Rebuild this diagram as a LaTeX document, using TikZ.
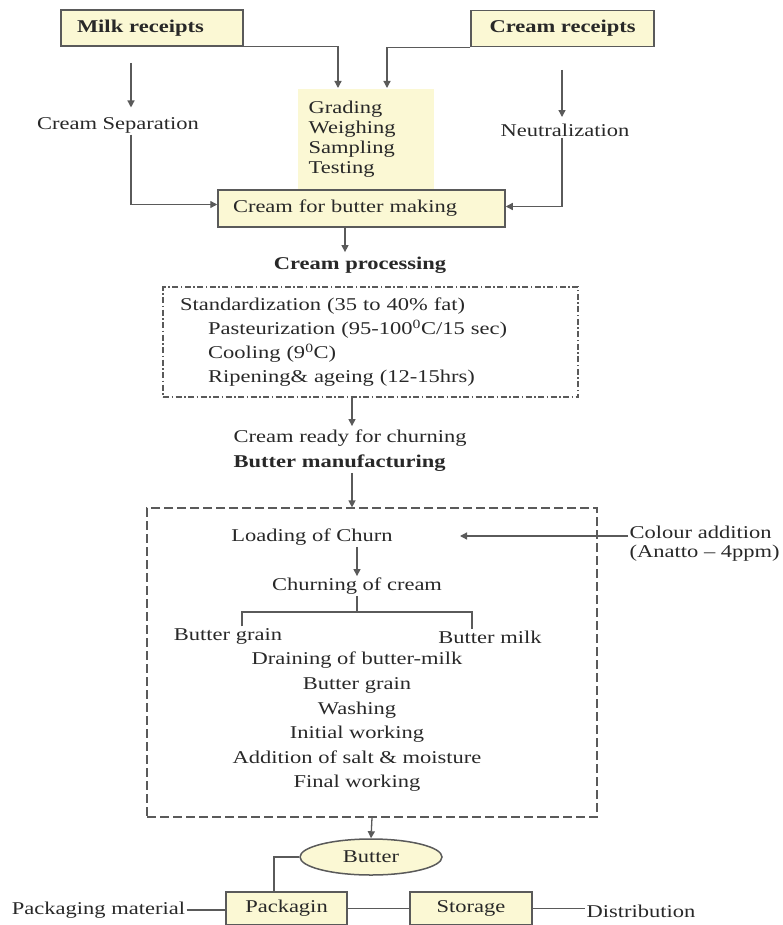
\documentclass[tikz,border=0pt]{standalone}
\usepackage{fontspec}
\setmainfont{Liberation Serif}[FakeStretch=1.25]
\usepackage{tikz}
\usetikzlibrary{arrows.meta, positioning, shapes.geometric}
\definecolor{boxfill}{RGB}{251,248,212}
\definecolor{linegray}{RGB}{90,90,90}
\definecolor{ink}{RGB}{40,40,40}
\newcommand{\flowfont}{\fontsize{18}{20}\selectfont}

\begin{document}
\begin{tikzpicture}[x=1pt, y=-1pt, line width=1.3pt, color=ink,
    every node/.style={font=\flowfont},
    box/.style={draw=linegray, fill=boxfill, line width=1.5pt, minimum height=36pt, inner sep=0pt},
    txt/.style={inner sep=1pt},
    procbox/.style={draw=linegray, line width=1.2pt, dash pattern=on 6pt off 2.5pt on 1.5pt off 2.5pt},
    churnbox/.style={draw=linegray, line width=1.2pt, dash pattern=on 9pt off 4pt},
    arr/.style={draw=linegray, -{Triangle[length=7pt, width=7pt]}},
    link/.style={draw=linegray}]
    \useasboundingbox (0,0) rectangle (783,925);

    \node[box, text width=150pt, inner xsep=16pt, align=left, font=\flowfont\bfseries] (milk) at (152,28) {Milk receipts};
    \node[box, minimum width=183pt, font=\flowfont\bfseries] (cream) at (562.5,28.5) {Cream receipts};
    \node[fill=boxfill, anchor=north west, text width=114pt, inner xsep=11pt, inner ysep=0pt, minimum height=102pt, align=left] (grade) at (297,88) {Grading\\Weighing\\Sampling\\Testing};
    \node[txt] (sep) at (118,125) {Cream Separation};
    \node[txt] (neu) at (565,130) {Neutralization};
    \node[box, text width=257pt, inner xsep=15pt, minimum height=37pt, align=left] (cfb) at (361.5,208.5) {Cream for butter making};

    \draw[arr] (milk.south east) -| ([xshift=41pt]grade.north west);
    \draw[arr] (cream.south west) -| ([xshift=90pt]grade.north west);
    \coordinate (sepin) at (131,63);
    \coordinate (neuin) at (562,70);
    \draw[arr, shorten >=8pt] (sepin) -- (sepin |- sep.north);
    \draw[arr, shorten >=5pt] (neuin) -- (neuin |- neu.north);
    \draw[arr] (sep.south -| sepin) |- ([yshift=4pt]cfb.west);
    \draw[arr] (neu.south -| neuin) |- ([yshift=2pt]cfb.east);

    \node[txt, font=\flowfont\bfseries] (ptitle) at (360,265) {Cream processing};
    \coordinate (cfbout) at ([xshift=-16.5pt]cfb.south);
    \draw[arr, shorten >=3pt] (cfbout) -- (cfbout |- ptitle.north);
    \node[procbox, text width=381pt, inner xsep=17pt, inner ysep=0pt, minimum height=110pt, align=left, font=\fontsize{18}{24}\selectfont] (proc) at (370.5,342) {Standardization (35 to 40\% fat)\\
        \hspace*{28pt}Pasteurization (95-100\textsuperscript{0}C/15 sec)\\
        \hspace*{28pt}Cooling (9\textsuperscript{0}C)\\
        \hspace*{28pt}Ripening\& ageing (12-15hrs)};

    \node[txt, anchor=west] (ready) at (232,438) {Cream ready for churning};
    \node[txt, anchor=west, font=\flowfont\bfseries] (manuf) at (232,463) {Butter manufacturing};
    \coordinate (procout) at ([xshift=-18.5pt]proc.south);
    \draw[arr, shorten >=2pt] (procout) -- (procout |- ready.north);

    \node[churnbox, minimum width=450pt, minimum height=309pt] (churn) at (372,662.5) {};
    \draw[arr] (procout |- manuf.south) -- (procout |- churn.north);
    \node[txt] (loading) at (312,537) {Loading of Churn};
    \node[txt, anchor=west, align=left, font=\fontsize{18}{19}\selectfont] (colour) at (628,544) {Colour addition\\(Anatto -- 4ppm)};
    \coordinate (colourtip) at (460,536);
    \draw[arr] (colourtip -| colour.west) -- (colourtip);
    \node[txt] (churning) at (357,586) {Churning of cream};
    \draw[arr] (churning.north |- loading.south) -- (churning.north);
    \node[txt] (grainl) at (228,636) {Butter grain};
    \node[txt] (milkl) at (490,637) {Butter milk};
    \coordinate (split) at (357,612);
    \draw[link] (churning.south) -- (split);
    \draw[link] ([xshift=14pt]grainl.north) |- (split) -| ([xshift=-18pt]milkl.north);
    \node[txt, align=center, font=\fontsize{18}{24.6}\selectfont] (steps) at (357,722) {Draining of butter-milk\\Butter grain\\Washing\\Initial working\\Addition of salt \& moisture\\Final working};

    \node[ellipse, draw=linegray, fill=boxfill, line width=1.5pt, minimum width=142pt, minimum height=36pt, inner sep=0pt] (butter) at (371,857) {Butter};
    \draw[arr] (churn.south) -- (butter.north);
    \node[box, minimum width=121pt, minimum height=33pt] (pack) at (286.5,908.5) {Packagin};
    \node[box, minimum width=122pt, minimum height=33pt] (store) at (471,908.5) {Storage};
    \node[txt] (packmat) at (98.5,910) {Packaging material};
    \node[txt] (dist) at (641,911) {Distribution};
    \draw[link] (butter.west) -| ([xshift=-12.5pt]pack.north);
    \draw[link] (packmat.east) -- (packmat.east -| pack.west);
    \draw[link] (pack) -- (store);
    \draw[link] (store.east) -- (store.east -| dist.west);
\end{tikzpicture}
\end{document}
